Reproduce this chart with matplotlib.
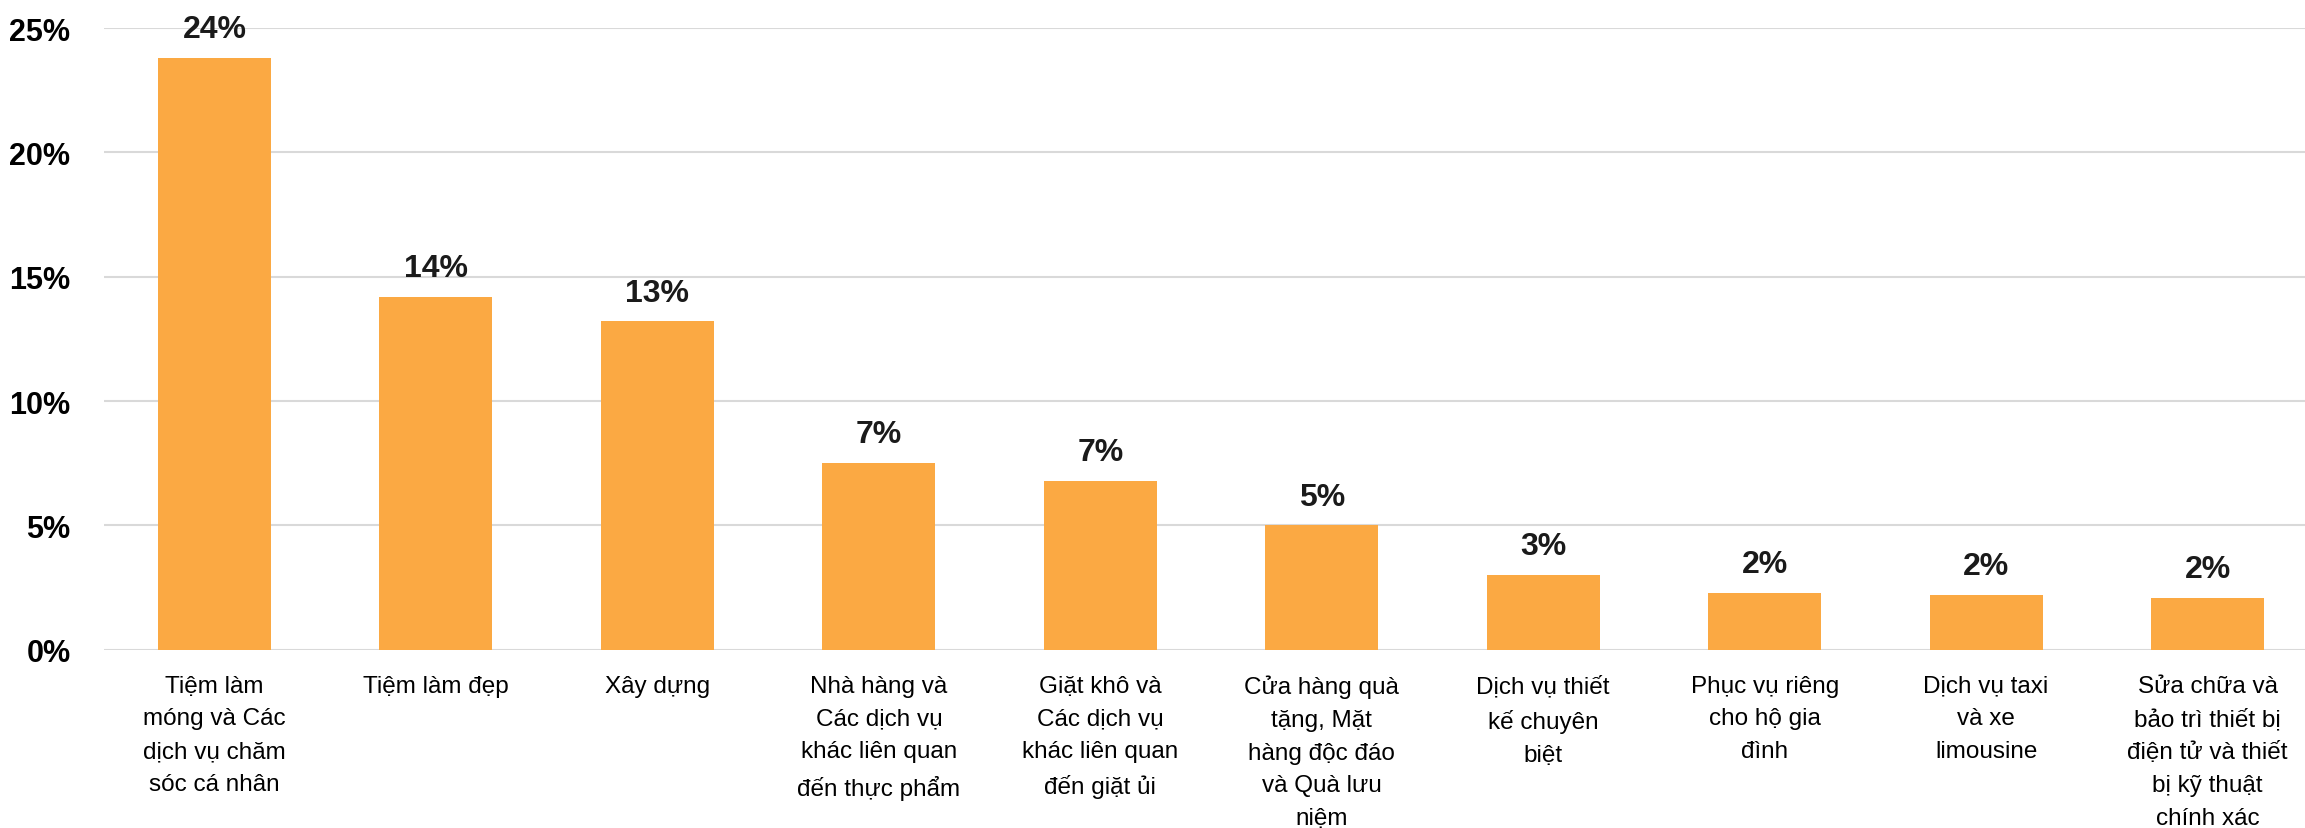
import numpy as np
import matplotlib
matplotlib.use('Agg')
import matplotlib.pyplot as plt

plt.rcParams['font.family'] = ['Liberation Sans', 'DejaVu Sans']

# Data
categories = [
    'Tiệm làm\nmóng và Các\ndịch vụ chăm\nsóc cá nhân',
    'Tiệm làm đẹp',
    'Xây dựng',
    'Nhà hàng và\nCác dịch vụ\nkhác liên quan\nđến thực phẩm',
    'Giặt khô và\nCác dịch vụ\nkhác liên quan\nđến giặt ủi',
    'Cửa hàng quà\ntặng, Mặt\nhàng độc đáo\nvà Quà lưu\nniệm',
    'Dịch vụ thiết\nkế chuyên\nbiệt',
    'Phục vụ riêng\ncho hộ gia\nđình',
    'Dịch vụ taxi\nvà xe\nlimousine',
    'Sửa chữa và\nbảo trì thiết bị\nđiện tử và thiết\nbị kỹ thuật\nchính xác',
]
values = [23.8, 14.2, 13.2, 7.5, 6.8, 5.0, 3.0, 2.3, 2.2, 2.1]
value_labels = ['24%', '14%', '13%', '7%', '7%', '5%', '3%', '2%', '2%', '2%']
yticks = [0, 5, 10, 15, 20, 25]

fig = plt.figure(figsize=[23.05, 8.29], dpi=100)
ax = fig.add_axes([0.045, 0.215, 0.955, 0.75])

x = np.arange(len(categories))
bars = ax.bar(x, values, width=0.51, color='#FBA943', zorder=3)

# Value labels above bars
for rect, lab in zip(bars, value_labels):
    ax.annotate(lab, (rect.get_x() + rect.get_width() / 2, rect.get_height()),
                xytext=(0, 10), textcoords='offset points',
                ha='center', va='bottom', fontsize=23, fontweight='bold',
                color='#1a1a1a', annotation_clip=False)

ax.set_xlim(-0.5, 9.44)
ax.set_ylim(0, 25)
ax.set_yticks(yticks)
ax.set_yticklabels([f'{t}%' for t in yticks], fontsize=22, fontweight='bold')
ax.set_xticks(x)
ax.set_xticklabels(categories, fontsize=17.5, linespacing=1.63, va='top')

ax.tick_params(axis='both', length=0)
ax.tick_params(axis='x', pad=18)
ax.tick_params(axis='y', pad=24)

ax.grid(axis='y', color='#d9d9d9', linewidth=1.5, zorder=0)
for s in ax.spines.values():
    s.set_visible(False)

plt.savefig('out.png', dpi=100)
